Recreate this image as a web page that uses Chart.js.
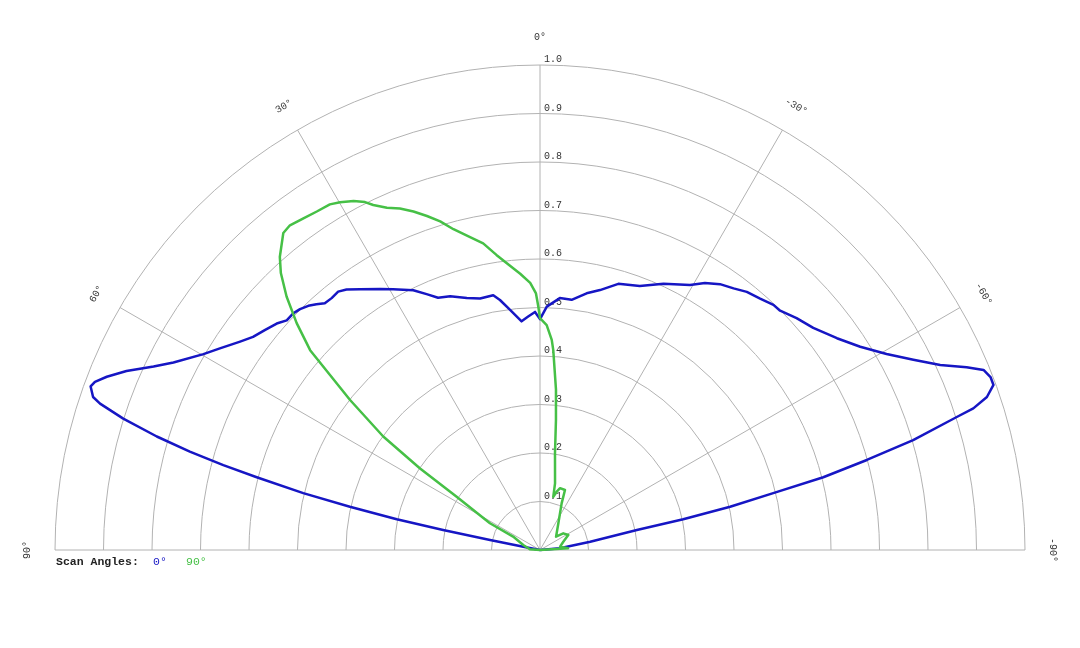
<!DOCTYPE html>
<html><head><meta charset="utf-8">
<script src="https://cdn.jsdelivr.net/npm/chart.js@4.4.0/dist/chart.umd.min.js"></script>
<style>html,body{margin:0;padding:0;background:#fff;overflow:hidden}canvas{display:block}</style>
</head><body>
<canvas id="c" width="1080" height="648"></canvas>
<script>
// Scan angle 0° : angle (deg, positive = left) and relative intensity
const blueAngles = [90, 78.8, 78.7, 78.3, 77.9, 77.2, 76.5, 75.6, 75.0, 74.3, 73.5, 72.5, 71.6, 71.1, 70.0, 69.3, 68.2, 66.6, 64.6, 62.9, 59.8, 57.8, 55.2, 53.4, 51.3, 49.3, 47.8, 46.2, 44.9, 43.5, 42.3, 41.1, 39.6, 38.0, 36.6, 34.6, 31.5, 29.4, 26.0, 23.9, 22.0, 19.5, 16.2, 13.4, 10.4, 9.1, 7.1, 4.6, 2.9, 1.2, 0, -1.6, -4.5, -7.2, -10.3, -13.0, -16.4, -20.7, -24.9, -29.5, -31.7, -34.1, -36.5, -38.7, -41.2, -43.6, -45.1, -47.9, -50.9, -54.5, -57.6, -60.5, -63.0, -65.2, -66.8, -67.9, -69.0, -70.0, -71.1, -71.9, -72.3, -73.6, -74.6, -75.6, -76.3, -77.2, -77.9, -78.3, -80.6, -85, -90];
const blueRadii = [0, 0.035, 0.105, 0.204, 0.302, 0.402, 0.502, 0.603, 0.676, 0.750, 0.824, 0.901, 0.956, 0.974, 0.986, 0.981, 0.962, 0.929, 0.882, 0.849, 0.803, 0.780, 0.753, 0.737, 0.726, 0.716, 0.705, 0.705, 0.701, 0.694, 0.685, 0.675, 0.674, 0.676, 0.669, 0.653, 0.631, 0.617, 0.596, 0.577, 0.561, 0.555, 0.541, 0.533, 0.534, 0.522, 0.499, 0.473, 0.482, 0.491, 0.476, 0.502, 0.521, 0.520, 0.538, 0.550, 0.572, 0.582, 0.605, 0.628, 0.647, 0.662, 0.671, 0.682, 0.689, 0.698, 0.699, 0.713, 0.726, 0.752, 0.782, 0.821, 0.864, 0.909, 0.957, 0.987, 0.995, 0.995, 0.974, 0.940, 0.902, 0.802, 0.699, 0.603, 0.495, 0.402, 0.302, 0.204, 0.105, 0.041, 0];
// Scan angle 90°
const greenAngles = [90, 86, 73.3, 63.5, 61.9, 57.4, 55.8, 54.1, 51.7, 49.0, 47.0, 45.0, 43.1, 41.6, 39.0, 37.6, 35.5, 33.4, 31.3, 29.9, 28.1, 26.7, 25.8, 24.1, 22.3, 20.5, 18.7, 16.9, 15.1, 12.6, 10.5, 8.4, 6.6, 4.1, 2.1, 0.9, 0.4, 0, -1.7, -3.2, -3.8, -5.7, -7.0, -8.8, -12.7, -14.0, -16.0, -18.0, -22.6, -24.9, -34.4, -50.3, -54.4, -62.1, -70.4, -80.6, -86.6, -90];
const greenRadii = [0, 0.021, 0.036, 0.062, 0.117, 0.204, 0.299, 0.399, 0.499, 0.628, 0.686, 0.739, 0.782, 0.808, 0.841, 0.845, 0.840, 0.836, 0.834, 0.827, 0.816, 0.803, 0.790, 0.773, 0.761, 0.745, 0.727, 0.708, 0.685, 0.661, 0.643, 0.615, 0.595, 0.571, 0.551, 0.529, 0.502, 0.478, 0.464, 0.434, 0.413, 0.332, 0.270, 0.202, 0.141, 0.113, 0.125, 0.134, 0.134, 0.106, 0.067, 0.043, 0.059, 0.066, 0.051, 0.042, 0.058, 0];

const ringValues = [0.1, 0.2, 0.3, 0.4, 0.5, 0.6, 0.7, 0.8, 0.9, 1.0];
const ringLabels = ['0.1', '0.2', '0.3', '0.4', '0.5', '0.6', '0.7', '0.8', '0.9', '1.0'];
const spokeAngles = [60, 30, 0, -30, -60];
const angleTicks = [90, 60, 30, 0, -30, -60, -90];
const angleTickLabels = ['90°', '60°', '30°', '0°', '-30°', '-60°', '-90°'];
const legendTitle = 'Scan Angles:';
const seriesNames = ['0°', '90°'];
const seriesColors = ['#1616c4', '#46c046'];

function toXY(angles, radii) {
  return angles.map((a, i) => {
    const t = a * Math.PI / 180;
    return { x: -radii[i] * Math.sin(t), y: radii[i] * Math.cos(t) };
  });
}

const MONO = '"Liberation Mono", "Courier New", monospace';

const polarGrid = {
  id: 'polarGrid',
  beforeDatasetsDraw(chart) {
    const { ctx, scales: { x, y } } = chart;
    const cx = x.getPixelForValue(0), cy = y.getPixelForValue(0);
    const rx = x.getPixelForValue(1) - cx;
    const ry = cy - y.getPixelForValue(1);
    ctx.save();
    ctx.strokeStyle = '#b2b2b2';
    ctx.lineWidth = 1;
    ringValues.forEach(v => {
      ctx.beginPath();
      ctx.ellipse(cx, cy, rx * v, ry * v, 0, Math.PI, 2 * Math.PI);
      ctx.stroke();
    });
    ctx.beginPath();
    ctx.moveTo(x.getPixelForValue(-1), cy);
    ctx.lineTo(x.getPixelForValue(1), cy);
    ctx.stroke();
    spokeAngles.forEach(a => {
      const t = a * Math.PI / 180;
      ctx.beginPath();
      ctx.moveTo(cx, cy);
      ctx.lineTo(x.getPixelForValue(-Math.sin(t)), y.getPixelForValue(Math.cos(t)));
      ctx.stroke();
    });
    ctx.fillStyle = '#333';
    ctx.font = '10px ' + MONO;
    ctx.textAlign = 'left';
    ctx.textBaseline = 'alphabetic';
    ringValues.forEach((v, i) => {
      ctx.fillText(ringLabels[i], cx + 4, y.getPixelForValue(v) - 3);
    });
    angleTicks.forEach((a, i) => {
      const t = a * Math.PI / 180;
      const lr = 1.056;
      const px = x.getPixelForValue(-lr * Math.sin(t));
      const py = y.getPixelForValue(lr * Math.cos(t));
      ctx.save();
      ctx.translate(px, py);
      ctx.rotate(-t);
      ctx.textAlign = 'center';
      ctx.textBaseline = 'middle';
      ctx.fillText(angleTickLabels[i], 0, 0);
      ctx.restore();
    });
    ctx.restore();
  },
  afterDraw(chart) {
    const { ctx, scales: { x, y } } = chart;
    const lx = x.getPixelForValue(-1) + 1;
    const ly = y.getPixelForValue(0) + 15;
    ctx.save();
    ctx.font = 'bold 11.5px ' + MONO;
    ctx.textBaseline = 'alphabetic';
    ctx.textAlign = 'left';
    ctx.fillStyle = '#222';
    ctx.fillText(legendTitle, lx, ly);
    ctx.font = '11.5px ' + MONO;
    ctx.fillStyle = seriesColors[0];
    ctx.fillText(seriesNames[0], lx + 97, ly);
    ctx.fillStyle = seriesColors[1];
    ctx.fillText(seriesNames[1], lx + 130, ly);
    ctx.restore();
  }
};

new Chart(document.getElementById('c'), {
  type: 'scatter',
  data: {
    datasets: [
      { label: seriesNames[0], data: toXY(blueAngles, blueRadii), showLine: true, borderColor: seriesColors[0], backgroundColor: seriesColors[0], borderWidth: 2.5, pointRadius: 0, fill: false, clip: false, order: 1, borderJoinStyle: 'round' },
      { label: seriesNames[1], data: toXY(greenAngles, greenRadii), showLine: true, borderColor: seriesColors[1], backgroundColor: seriesColors[1], borderWidth: 2.5, pointRadius: 0, fill: false, clip: false, order: 0, borderJoinStyle: 'round' }
    ]
  },
  options: {
    responsive: false,
    animation: false,
    devicePixelRatio: 1,
    layout: { padding: { left: 55, right: 55, top: 65, bottom: 98 } },
    scales: {
      x: { type: 'linear', min: -1, max: 1, display: false },
      y: { type: 'linear', min: 0, max: 1, display: false }
    },
    plugins: { legend: { display: false }, tooltip: { enabled: false } }
  },
  plugins: [polarGrid]
});
</script>
</body></html>
